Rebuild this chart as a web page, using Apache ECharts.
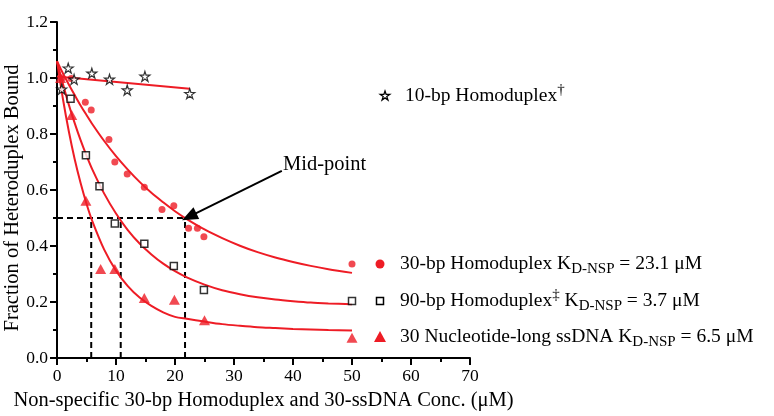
<!DOCTYPE html>
<html>
<head>
<meta charset="utf-8">
<script src="https://cdn.jsdelivr.net/npm/echarts@6/dist/echarts.min.js"></script>
<style>html,body{margin:0;padding:0;background:#fff;}#c{width:774px;height:416px;}</style>
</head>
<body>
<div id="c"></div>
<script>
// ---- data ----
const xTicks = [0, 10, 20, 30, 40, 50, 60, 70];
const yTicks = [0.0, 0.2, 0.4, 0.6, 0.8, 1.0, 1.2];

const starX = [0.8, 1.9, 2.9, 5.9, 8.9, 11.9, 14.9, 22.5];
const starY = [0.96, 1.035, 0.995, 1.017, 0.995, 0.957, 1.006, 0.944];
const starFitX = [0, 22.5];
const starFitY = [1.005, 0.962];

const circX = [0.8, 2.4, 4.8, 5.8, 8.8, 9.8, 11.9, 14.8, 17.8, 19.8, 22.3, 23.8, 24.9, 50];
const circY = [1.0, 0.998, 0.913, 0.886, 0.78, 0.70, 0.657, 0.61, 0.53, 0.544, 0.463, 0.463, 0.433, 0.336];

const sqX = [2.3, 4.9, 7.2, 9.8, 14.8, 19.8, 24.9, 50];
const sqY = [0.926, 0.724, 0.613, 0.48, 0.408, 0.329, 0.243, 0.204];

const triX = [0.6, 2.5, 4.9, 7.4, 9.8, 14.8, 19.9, 25, 50];
const triY = [1.0, 0.868, 0.562, 0.318, 0.318, 0.214, 0.208, 0.135, 0.072];

const fitX    = [0, 1, 2, 3, 4, 5, 6, 8, 10, 12, 14, 16, 18, 20, 22, 25, 28, 31, 34, 37, 40, 43, 46, 50];
const circFit = [1.06, 1.017, 0.977, 0.939, 0.902, 0.868, 0.835, 0.775, 0.721, 0.673, 0.629, 0.590, 0.556, 0.524, 0.496, 0.459, 0.428, 0.401, 0.378, 0.359, 0.343, 0.329, 0.317, 0.304];
const sqFit   = [1.06, 0.979, 0.905, 0.839, 0.778, 0.723, 0.673, 0.587, 0.516, 0.457, 0.409, 0.370, 0.337, 0.310, 0.288, 0.262, 0.242, 0.228, 0.217, 0.209, 0.203, 0.198, 0.195, 0.192];
const triFit  = [1.06, 0.926, 0.810, 0.710, 0.625, 0.551, 0.488, 0.387, 0.312, 0.257, 0.216, 0.186, 0.163, 0.147, 0.140, 0.130, 0.121, 0.115, 0.110, 0.107, 0.104, 0.102, 0.100, 0.098];

const midY = 0.5;
const midX = [5.8, 10.8, 21.7];
const arrowFrom = [38.1, 0.668];
const arrowTo = [22.4, 0.505];

const xTitle = 'Non-specific 30-bp Homoduplex and 30-ssDNA Conc. (\u03bcM)';
const yTitle = 'Fraction of Heteroduplex Bound';
const midLabel = 'Mid-point';
// ---------------------------------------

const RED = '#ee1c25';
const FONT = '"Liberation Serif", "Times New Roman", serif';
const STAR = 'path://M50,0 L61.2,34.5 L97.6,34.5 L68.2,55.9 L79.4,90.5 L50,69.1 L20.6,90.5 L31.8,55.9 L2.4,34.5 L38.8,34.5 Z';
const STAR_PTS = [[50,0],[61.2,34.5],[97.6,34.5],[68.2,55.9],[79.4,90.5],[50,69.1],[20.6,90.5],[31.8,55.9],[2.4,34.5],[38.8,34.5]];

const zip = (a, b) => a.map((v, i) => [v, b[i]]);

const chart = echarts.init(document.getElementById('c'), null, {renderer: 'canvas'});

const axisCommon = {
  axisLine: {show: true, onZero: false, lineStyle: {color: '#000', width: 2}},
  axisTick: {show: true, length: 7, lineStyle: {color: '#000', width: 2}},
  minorTick: {show: true, splitNumber: 2, length: 4, lineStyle: {color: '#000', width: 2}},
  splitLine: {show: false},
  minorSplitLine: {show: false}
};

const series = [];
// dashed guide lines
series.push({type: 'line', data: [[0, midY], [midX[2], midY]], symbol: 'none', silent: true,
  lineStyle: {color: '#000', width: 2, type: [6, 4]}, z: 2});
midX.forEach(x => series.push({type: 'line', data: [[x, 0], [x, midY]], symbol: 'none', silent: true,
  lineStyle: {color: '#000', width: 2, type: [6, 4]}, z: 2}));

// fit curves
[circFit, sqFit, triFit].forEach(f => series.push({
  type: 'line', data: zip(fitX, f), symbol: 'none', smooth: 0.3, silent: true,
  lineStyle: {color: RED, width: 2}, z: 3
}));
series.push({type: 'line', data: zip(starFitX, starFitY), symbol: 'none', silent: true,
  lineStyle: {color: RED, width: 2}, z: 3,
  markLine: {
    silent: true, symbol: ['none', 'triangle'], symbolSize: [13, 16],
    lineStyle: {color: '#000', width: 2, type: 'solid'}, label: {show: false},
    data: [[{coord: arrowFrom}, {coord: arrowTo}]]
  }
});

// data points
series.push({type: 'scatter', data: zip(triX, triY), symbol: 'triangle', symbolSize: [11, 10],
  itemStyle: {color: RED}, z: 5});
series.push({type: 'scatter', data: zip(circX, circY), symbol: 'circle', symbolSize: 7,
  itemStyle: {color: RED}, z: 5});
series.push({type: 'scatter', data: zip(sqX, sqY), symbol: 'rect', symbolSize: 7,
  itemStyle: {color: '#fff', borderColor: '#000', borderWidth: 1.5}, z: 6});
series.push({type: 'scatter', data: zip(starX, starY), symbol: STAR, symbolSize: 10,
  itemStyle: {color: '#fff', borderColor: '#000', borderWidth: 1.2}, z: 6});

const rich = {
  t: {fontFamily: FONT, fontSize: 19.5, color: '#000', lineHeight: 26, verticalAlign: 'middle'},
  s: {fontFamily: FONT, fontSize: 15, color: '#000', lineHeight: 24, verticalAlign: 'bottom'},
  p: {fontFamily: FONT, fontSize: 15, color: '#000', lineHeight: 24, verticalAlign: 'top'}
};

function legendText(x, y, text) {
  return {type: 'text', x: x, y: y - 13, style: {text: text, rich: rich}, z: 10};
}

const graphic = [
  {type: 'text', x: 13, y: 198, rotation: Math.PI / 2,
   style: {text: yTitle, font: '20.5px ' + FONT, fill: '#000', align: 'center', verticalAlign: 'middle'}, z: 10},
  {type: 'polygon', shape: {points: STAR_PTS.map(p => [380 + p[0] / 10, 91 + p[1] / 10])},
   style: {fill: '#fff', stroke: '#000', lineWidth: 1.3}, z: 10},
  legendText(405, 96, '{t|10-bp Homoduplex}{p|\u2020}'),
  {type: 'circle', shape: {cx: 380, cy: 264, r: 4.5}, style: {fill: RED}, z: 10},
  legendText(400, 264, '{t|30-bp Homoduplex K}{s|D-NSP}{t| = 23.1 \u03bcM}'),
  {type: 'rect', shape: {x: 376.5, y: 297.5, width: 7, height: 7}, style: {fill: '#fff', stroke: '#000', lineWidth: 1.5}, z: 10},
  legendText(400, 301, '{t|90-bp Homoduplex}{p|\u2021}{t| K}{s|D-NSP}{t| = 3.7 \u03bcM}'),
  {type: 'polygon', shape: {points: [[380, 331], [386, 342], [374, 342]]}, style: {fill: RED}, z: 10},
  legendText(400, 337, '{t|30 Nucleotide-long ssDNA K}{s|D-NSP}{t| = 6.5 \u03bcM}'),
  {type: 'text', x: 283, y: 154, style: {text: midLabel, font: '20.5px ' + FONT, fill: '#000'}, z: 10}
];

chart.setOption({
  animation: false,
  backgroundColor: '#fff',
  grid: {left: 57, right: 304, top: 22, bottom: 58, containLabel: false, outerBoundsMode: 'none'},
  xAxis: Object.assign({
    type: 'value', min: xTicks[0], max: xTicks[xTicks.length - 1], interval: xTicks[1] - xTicks[0],
    axisLabel: {color: '#000', fontFamily: FONT, fontSize: 17.5, margin: 9},
    name: xTitle, nameLocation: 'middle', nameGap: 31,
    nameTextStyle: {color: '#000', fontFamily: FONT, fontSize: 20.5}
  }, axisCommon),
  yAxis: Object.assign({
    type: 'value', min: yTicks[0], max: yTicks[yTicks.length - 1], interval: 0.2,
    axisLabel: {color: '#000', fontFamily: FONT, fontSize: 17.5, margin: 9, formatter: v => v.toFixed(1)}
  }, axisCommon),
  series: series,
  graphic: graphic
});
</script>
</body>
</html>
